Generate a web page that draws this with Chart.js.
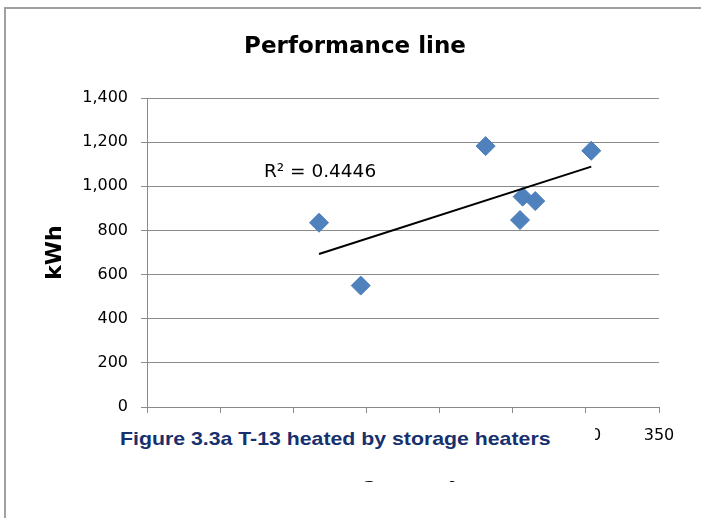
<!DOCTYPE html>
<html><head><meta charset="utf-8">
<script src="https://cdn.jsdelivr.net/npm/chart.js@4"></script>
<style>
html,body{margin:0;padding:0;background:#fff;overflow:hidden;}
#wrap{position:relative;width:701px;height:518px;overflow:hidden;background:#fff;}
#c{position:absolute;left:0;top:0;}
#capbox{position:absolute;left:108px;top:418px;width:487px;height:63px;background:#fff;}
#captext{position:absolute;left:120px;top:429px;font:bold 19px "Liberation Sans",Arial,sans-serif;line-height:20px;color:#17306e;white-space:nowrap;transform:scaleX(1.12);transform-origin:0 50%;}
</style></head><body>
<div id="wrap"><canvas id="c" width="701" height="518"></canvas><div id="capbox"></div><div id="captext"></div></div>
<script>
// ---- data ----
const xValues = [117.6, 146.1, 231.5, 255.0, 256.8, 265.4, 303.7];
const yValues = [835, 550, 1182, 847, 953, 933, 1161];
const trendX = [117.6, 303.7];
const trendY = [693, 1089];
const xTicks = [0, 50, 100, 150, 200, 250, 300, 350];
const yTicks = [0, 200, 400, 600, 800, 1000, 1200, 1400];
const chartTitle = 'Performance line';
const xTitle = 'Degree days';
const yTitle = 'kWh';
const r2Label = 'R\u00B2 = 0.4446';
const captionText = 'Figure 3.3a T-13 heated by storage heaters';

document.getElementById('captext').textContent = captionText;

const FONT = '"DejaVu Sans", sans-serif';
const GRID = '#8a8a8a';

const scatterData = xValues.map((x, i) => ({x: x, y: yValues[i]}));
const trendData = trendX.map((x, i) => ({x: x, y: trendY[i]}));

const frame = {
  id: 'frame',
  beforeDraw(chart) {
    const ctx = chart.ctx;
    ctx.save();
    ctx.fillStyle = '#fff';
    ctx.fillRect(0, 0, chart.width, chart.height);
    ctx.fillStyle = '#a0a0a0';
    ctx.fillRect(4, 7, 2, chart.height - 7);
    ctx.fillRect(4, 7, chart.width - 4, 2);
    ctx.restore();
  }
};

const r2Plugin = {
  id: 'r2',
  afterDatasetsDraw(chart) {
    const ctx = chart.ctx;
    const xs = chart.scales.x, ys = chart.scales.y;
    ctx.save();
    ctx.font = '18.5px ' + FONT;
    ctx.fillStyle = '#000';
    ctx.textAlign = 'left';
    ctx.textBaseline = 'alphabetic';
    ctx.fillText(r2Label, xs.getPixelForValue(79.9), ys.getPixelForValue(1042));
    ctx.restore();
  }
};

new Chart(document.getElementById('c'), {
  type: 'scatter',
  data: {
    datasets: [
      {
        label: 'kWh',
        data: scatterData,
        pointStyle: 'rectRot',
        pointRadius: 9.5,
        pointHoverRadius: 9.5,
        backgroundColor: '#4f81bd',
        borderColor: '#4a7ebb',
        borderWidth: 1,
        order: 2
      },
      {
        label: 'trend',
        type: 'line',
        data: trendData,
        showLine: true,
        borderColor: '#000',
        borderWidth: 2,
        pointRadius: 0,
        fill: false,
        order: 1
      }
    ]
  },
  options: {
    responsive: false,
    animation: false,
    devicePixelRatio: 1,
    layout: {padding: {left: 9, right: 0, top: 0, bottom: 0}},
    plugins: {
      legend: {display: false},
      tooltip: {enabled: false},
      title: {
        display: true,
        text: chartTitle,
        color: '#000',
        font: {family: FONT, size: 23, weight: 'bold', lineHeight: 1.2},
        padding: {top: 33.2, bottom: 37.2}
      }
    },
    scales: {
      x: {
        type: 'linear',
        min: 0, max: 350,
        afterBuildTicks(s) { s.ticks = xTicks.map(v => ({value: v})); },
        afterFit(s) { s.height = 111; },
        ticks: {
          color: '#000',
          font: {family: FONT, size: 16},
          padding: 13,
          maxRotation: 0,
          autoSkip: false
        },
        grid: {drawOnChartArea: false, drawTicks: true, tickLength: 6, tickColor: GRID},
        border: {display: true, color: GRID, width: 1},
        title: {
          display: true,
          text: xTitle,
          color: '#000',
          font: {family: FONT, size: 20, weight: 'bold', lineHeight: 1.2},
          padding: {top: 0, bottom: 33}
        }
      },
      y: {
        type: 'linear',
        min: 0, max: 1400,
        afterBuildTicks(s) { s.ticks = yTicks.map(v => ({value: v})); },
        afterFit(s) { s.width = 138; },
        ticks: {
          color: '#000',
          font: {family: FONT, size: 16},
          padding: 13,
          callback: v => Number(v).toLocaleString('en-US')
        },
        grid: {color: GRID, tickColor: GRID, tickLength: 6, lineWidth: 1},
        border: {display: true, color: GRID, width: 1},
        title: {
          display: true,
          text: yTitle,
          color: '#000',
          font: {family: FONT, size: 22, weight: 'bold', lineHeight: 1.2},
          padding: {top: 32.8, bottom: 0}
        }
      },
      yRight: {
        type: 'linear',
        position: 'right',
        display: true,
        min: 0, max: 1400,
        afterFit(s) { s.width = 42; },
        ticks: {display: false},
        grid: {display: false, drawOnChartArea: false, drawTicks: false},
        border: {display: false},
        title: {display: false}
      }
    }
  },
  plugins: [frame, r2Plugin]
});
</script>
</body></html>
